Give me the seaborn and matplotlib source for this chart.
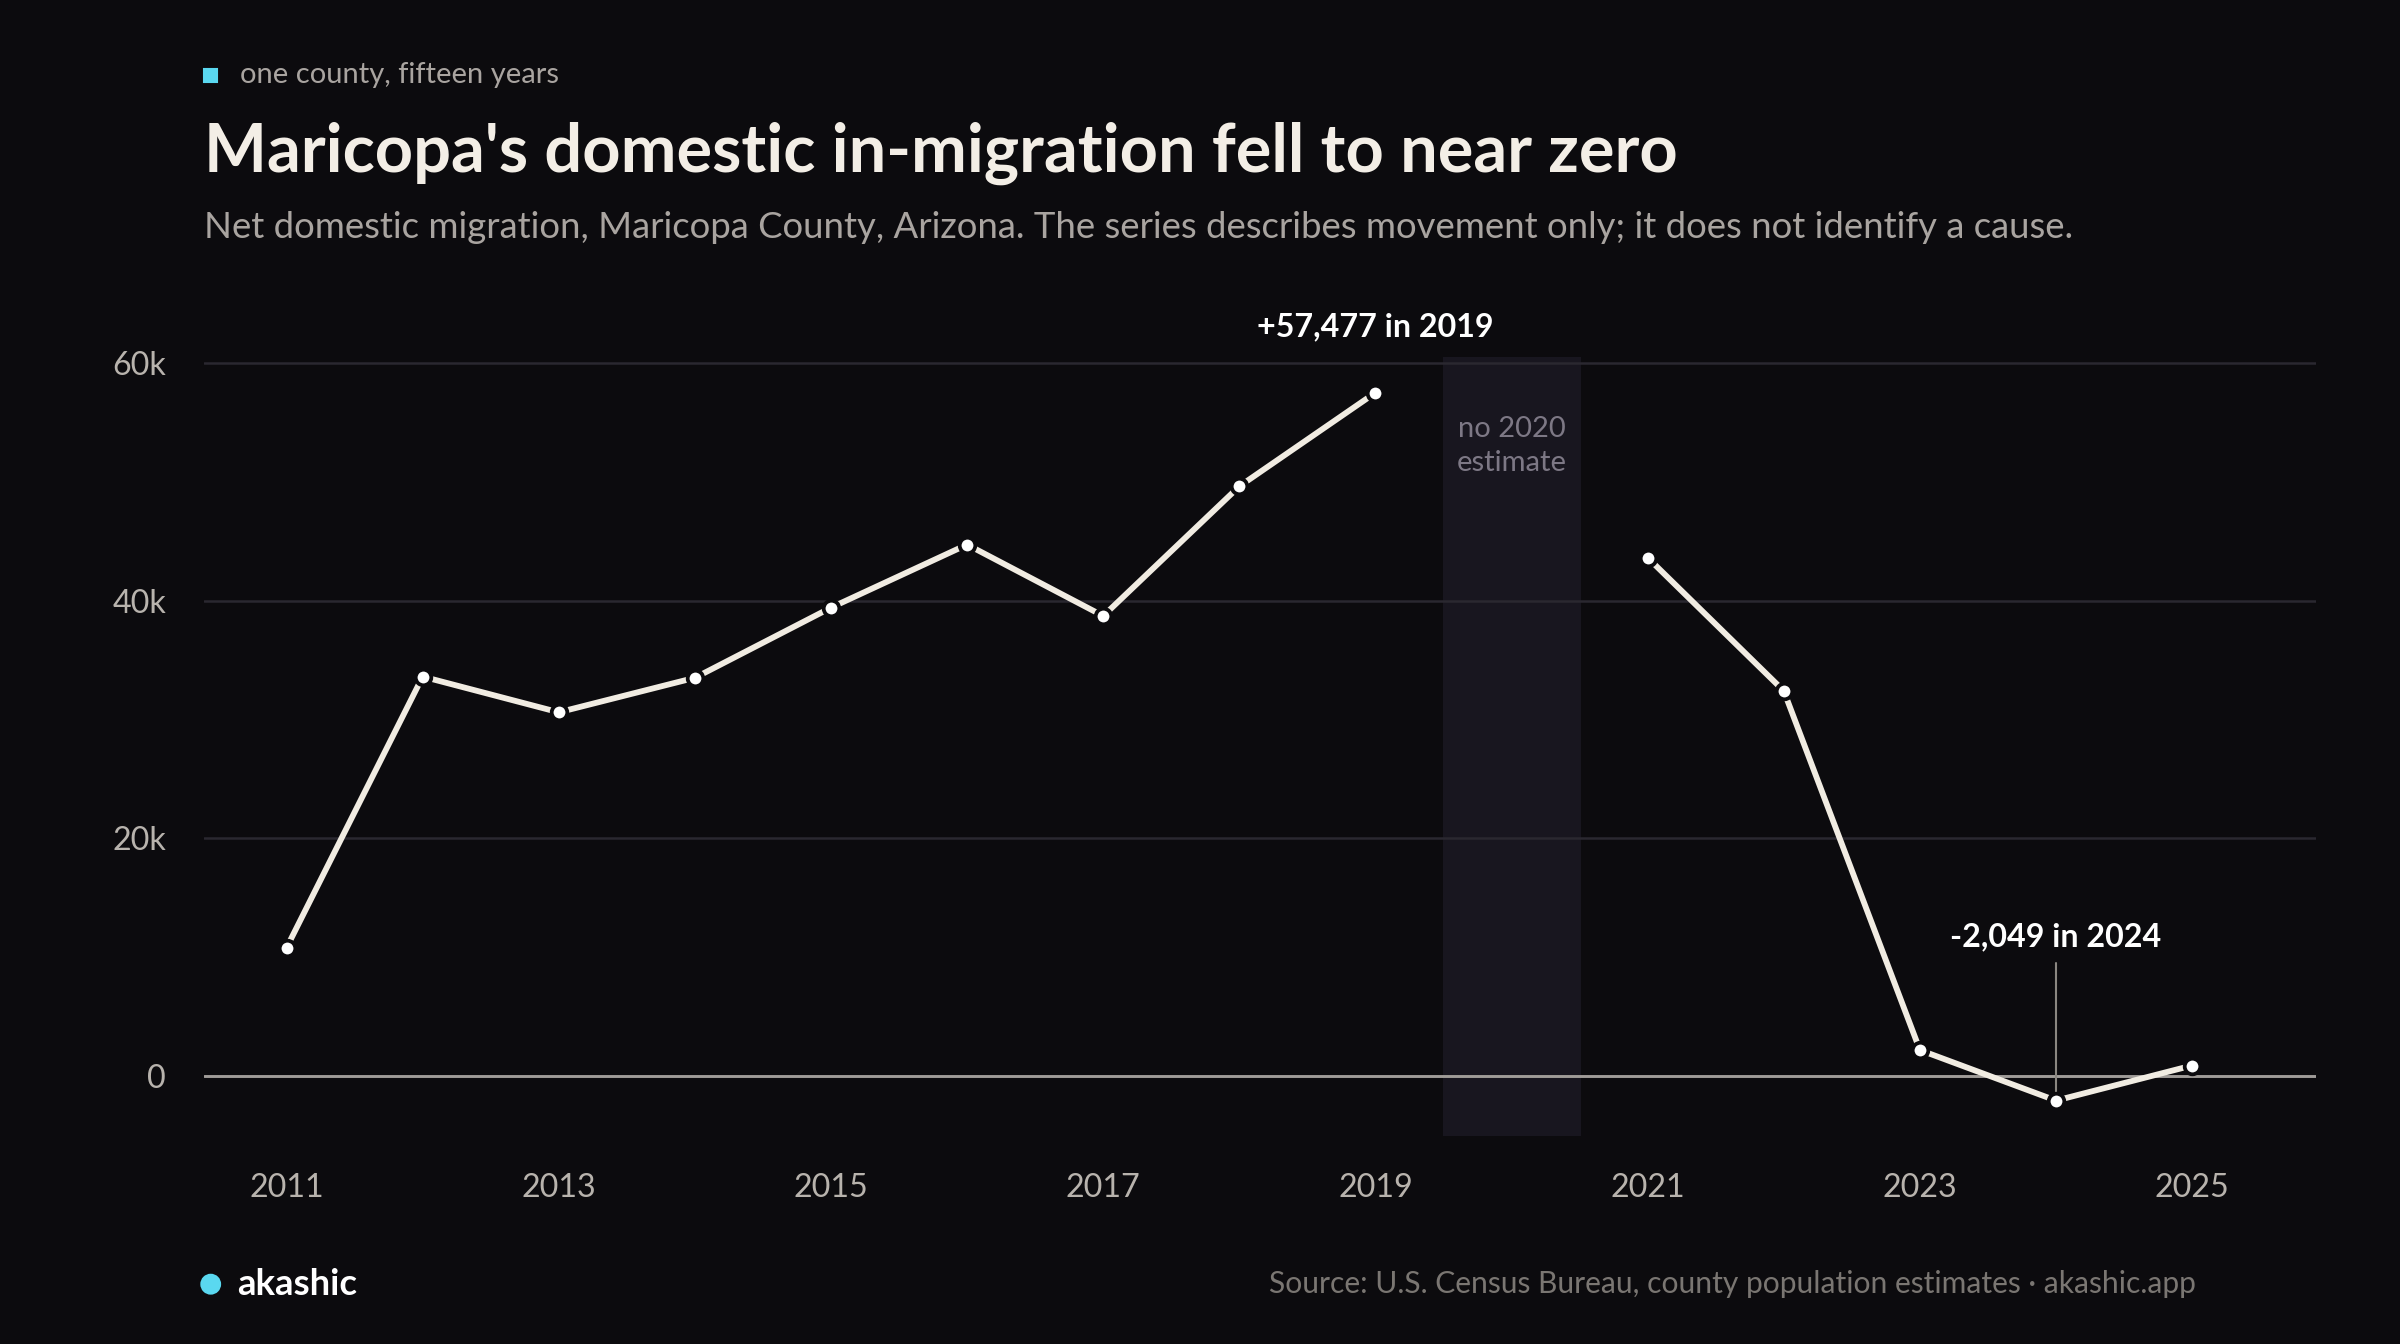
import matplotlib
matplotlib.use("Agg")
import matplotlib.pyplot as plt
import seaborn as sns
from matplotlib.patches import Ellipse

years_a = [2011, 2012, 2013, 2014, 2015, 2016, 2017, 2018, 2019]
vals_a = [10800, 33600, 30600, 33500, 39400, 44700, 38700, 49600, 57477]
years_b = [2021, 2022, 2023, 2024, 2025]
vals_b = [43600, 32400, 2200, -2049, 900]
xticks = [2011, 2013, 2015, 2017, 2019, 2021, 2023, 2025]
yticks = [0, 20000, 40000, 60000]
ylabels = ["0", "20k", "40k", "60k"]

BG = "#0c0b0e"
sns.set_theme(style="dark")
plt.rcParams["font.family"] = ["Lato", "DejaVu Sans"]

fig = plt.figure(figsize=(16, 8.96), dpi=150, facecolor=BG)
ax = fig.add_axes([0.0848, 0.155, 0.8802, 0.5796])
ax.set_facecolor(BG)

ax.axvspan(2019.5, 2020.5, color="#18161f", zorder=0)
for y in yticks[1:]:
    ax.axhline(y, color="#2a2830", lw=1.2, zorder=1)
ax.axhline(0, color="#a09c98", lw=1.4, zorder=1)

line_kw = dict(color="#f1ece2", lw=2.8, marker="o", markersize=7.5,
               markerfacecolor="white", markeredgecolor=BG, markeredgewidth=1.8)
sns.lineplot(x=years_a, y=vals_a, ax=ax, zorder=3, **line_kw)
sns.lineplot(x=years_b, y=vals_b, ax=ax, zorder=3, **line_kw)

ax.set_xlim(2010.39, 2025.91)
ax.set_ylim(-5000, 60500)
ax.set_xticks(xticks)
ax.set_xticklabels([str(x) for x in xticks])
ax.set_yticks(yticks)
ax.set_yticklabels(ylabels)
ax.tick_params(axis="x", colors="#b8b3ad", labelsize=15.5, length=0, pad=18)
ax.tick_params(axis="y", colors="#b8b3ad", labelsize=15.5, length=0, pad=18)
for s in ax.spines.values():
    s.set_visible(False)
ax.grid(False)

ax.text(2020, 53000, "no 2020\nestimate", color="#7d7885", fontsize=14,
        ha="center", va="center", linespacing=1.35)
ax.text(2019, 61800, "+57,477 in 2019", color="white", fontsize=15.5,
        ha="center", va="bottom", fontweight="bold")
ax.plot([2024, 2024], [-2049, 9500], color="#8a8680", lw=1, zorder=2)
ax.text(2024, 10500, "-2,049 in 2024", color="white", fontsize=15.5,
        ha="center", va="bottom", fontweight="bold")

fig.patches.append(plt.Rectangle((0.0848, 0.939), 0.0055, 0.0098,
                                 transform=fig.transFigure, color="#5ad8f0"))
fig.text(0.1, 0.944, "one county, fifteen years", color="#a9a4a0", fontsize=14, va="center")
fig.text(0.0848, 0.886, "Maricopa's domestic in-migration fell to near zero",
         color="#f3eee6", fontsize=32, fontweight="bold", va="center")
fig.text(0.0848, 0.831, "Net domestic migration, Maricopa County, Arizona. The series describes movement only; it does not identify a cause.",
         color="#a9a4a0", fontsize=17.5, va="center")
fig.patches.append(Ellipse((0.0878, 0.0445), 0.0078, 0.014, transform=fig.transFigure,
                           color="#5ad8f0"))
fig.text(0.099, 0.0445, "akashic", color="white", fontsize=17.5, fontweight="bold", va="center")
fig.text(0.915, 0.0445, "Source: U.S. Census Bureau, county population estimates · akashic.app",
         color="#7a7672", fontsize=14.4, va="center", ha="right")

fig.savefig("out.png", dpi=150, facecolor=BG)
